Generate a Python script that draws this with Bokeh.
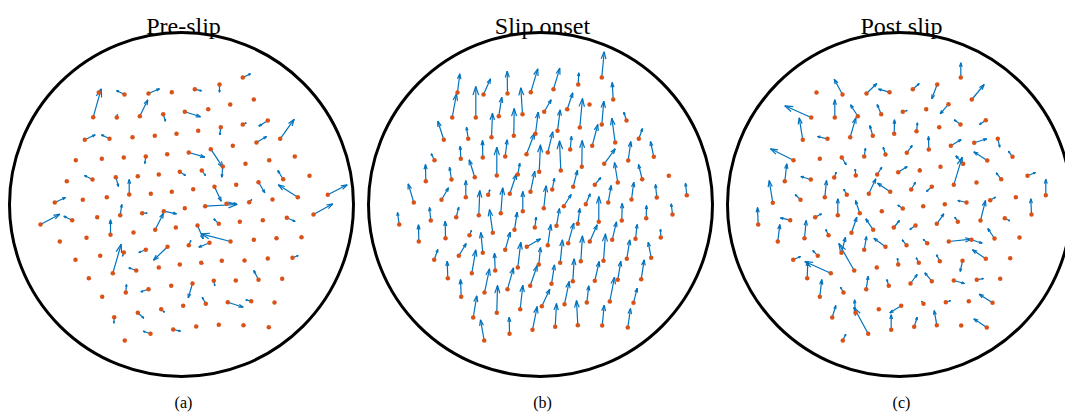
from bokeh.plotting import figure
from bokeh.layouts import row
from bokeh.models import Range1d
from bokeh.core.properties import value
from bokeh.embed import file_html
from bokeh.resources import INLINE

titles = ["Pre-slip", "Slip onset", "Post slip"]
captions = ["(a)", "(b)", "(c)"]
boundary_radius = 172

# ---- Pre-slip: marker positions (x, y) and displacement vectors (u, v)
p1_x = [-82.7, -88.3, -57, -33, -9.7, -64.7, -41.7, -18.3, -96.7, -72, -49, -26.7, -5, -105.7, -79.7, -57.7, -35.7, -14.3,
        -89, -65.7, -43.7, -22.7, -1.7, -114.7, -52.3, -30.7, -9.7, -126.7, -98.7, -74.7, -61.3, -17.7,
        61.3, 38, 13.3, 48.7, 72.3, 26.7, 3.3, 61.3, 86.3, 39.3, 16.7, 98.7, 75, 51.3, 7.3, 29.3, 113.3, 87.7, 64, 41.3,
        128, 101.7, 20.3, 54.7, 77, 11.7, 33, 116.3, 146.3, 67.7, 91, 23.7, 45, 3.3, 132,
        -141, -109.3, -84.3, -39.3, -71, -48, -26.3, -5.7, -121.7, -95, -68.7, -57.7, -35.7, -14, -106, -81.3, -45.3,
        -22.7, -1.7, -92.7, -55.7, -33, -10.3, -79.3, -43.7, -20.3, -67.3, -31, -8.3, -56.7,
        37.3, 58.3, 81.3, 105.3, 16, 49, 28, 7.3, 72.3, 95, 120, 19.7, 40.3, 63, 86.3, 111, 11, 32.3, 54.3, 77, 100.7,
        1.7, 24.3, 46.3, 69.7, 93, 14.7, 37.3, 62, 87.3]
p1_y = [112, 87.3, 110, 111, 112.3, 87, 88.3, 90.3, 64.7, 65.7, 67.3, 68.7, 70.7, 44.3, 45.7, 47, 48, 50.3,
        25, 27.3, 28.3, 30, 32.7, 23.3, 10, 10.7, 12.7, 2, 4.7, 7.3, -10.7, -6.7,
        127, 120, 115.3, 100, 105, 95.3, 92.7, 80, 84, 77.3, 73.7, 65.7, 62, 58.7, 52, 55.3, 48, 44.3, 40.7, 38,
        28.7, 25.3, 34, 19.7, 22.3, 15.3, 17.7, 7.3, 9.7, 2.3, 5, -1.7, 0.7, -3.7, -10,
        -20, -15.7, -12.7, -8.7, -30.3, -28, -25.3, -23, -37, -33.3, -68.7, -48, -45.3, -42.3, -55.3, -51.3, -66,
        -63, -60, -73.7, -88, -84.7, -81.3, -92.3, -108.3, -104.7, -112.7, -129.3, -125, -136,
        -19.3, -17.3, -15.7, -13.3, -21, -37, -38.3, -40.7, -35.3, -33.7, -32.7, -58.3, -56.3, -56, -54, -53.3, -79,
        -76.3, -76, -75.3, -74.3, -101.3, -99.3, -97.7, -96.7, -98, -122, -120.3, -120.7, -122.7]
p1_u = [1.7, 8, -8, 11, 0, 0.7, 8, 2.3, 10.4, -8, 0, 0, 0, 0, 0, 0, -1, 0,
        -8, 2.7, 0.7, 0, 5.7, 0, 0, 0, 0, 10.7, 0, 0, 1.6, 12.7,
        7.7, 0, 6.7, 0, 0, 0, 15.7, 3.4, -9, -1, 0, 14, 10, 0, 16, 12.4, 0, 0, 0, -1,
        0, -5.4, 3.7, 0, 6.3, 0, 6.7, -19.6, 19.4, 2.6, 0, 32, 10, 0, 19.3,
        19.3, -8.4, 0, 5, 0, 0, 8.3, 0, 0, 0, 8.4, -1.3, -7, -14, 0, 0, -7.4,
        0, 0, 0, 0.7, -7.7, 0, 0, 6, 3.3, -0.4, -7.3, 7.3, 0,
        -5, 0, 0, 8.4, 5.7, -29.3, -10.7, 2, 0, 0, 0, 2, 0, 0, 0, 5.7, -4.3,
        1, 0, -4.7, 0, 0, -3.6, 15.4, -5.4, 0, 0, 0, 0, 0]
p1_v = [2.7, 28.4, 4, 4.7, 0, 3, 16.4, -7, 5, 4, 0, 0, 0, 0, 0, 0, -7, 0,
        4, -9.3, -1.6, 0, -3.7, 0, 15, 0, 0, 5, 0, 0, 10.7, -2.6,
        3.7, -7.7, -1.6, 0, 0, 0, -5, 1.7, -5.7, -7.6, 0, 19.6, 6, 0, -4.7, -18.6, 0, 0, 0, -10.7,
        0, 8.7, -5, 0, -10.6, 0, -14.4, 12.4, 10, 2.7, 0, 1.7, 0.3, 0, 10.7,
        10.3, 4, 0, 0, 15, 0, 16.6, 0, 0, 0, 29, -3.7, -2.7, -13.4, 0, 0, 2.7,
        0, 0, 0, 8, -2.6, 0, 0, -5.4, -3, -6, 2.6, -1.7, 0,
        5, 0, 0, -3.7, -13.3, 7.7, -4.4, 4.7, 0, 0, 0, -1, 0, 0, 0, 2.3, -14.3,
        -5, 0, 9.3, 0, 0, 6.6, -5, 1.4, 0, 0, 0, 0, 0]

# ---- Slip onset
p2_x = [-83, -57, -33, -9.7, -88.3, -64.7, -41.7, -18, -96.7, -72.3, -49, -26.7, -5, -106, -79.7, -57.7, -35.3, -14,
        -114.7, -89, -65.7, -43.7, -22.7, -1.3, -126.7, -99, -74.7, -52.3, -30.7, -10,
        61.3, 37.7, 13, 72.7, 49, 26.7, 3.7, 39.3, 61.3, 86, 17, 74.7, 98.3, 51.7, 29.7, 7.3, 113.3, 87.7, 41.3, 63.7,
        20.3, 128.3, 101.7, 77.3, 54.3, 32.7, 11.7, 146.3, 116.3, 91, 67.7, 45.3, 23.3, 3.3,
        -141.3, -109.7, -84.3, -61.7, -39.7, -17.7, -47.7, -26, -5.7, -121.7, -95, -71, -57.7, -35.3, -13.7, -106.3,
        -81.7, -22.7, -1.7, -68.7, -45.3, -92.7, -56, -33, -10.3, -79.3, -43.7, -20.3, -67.3, -31, -8, -56.3,
        16, 37.3, 58.3, 81.3, 105.7, 132, 7.3, 27.7, 49.3, 71.7, 95, 120.3, 19.7, 40.3, 63, 86.3, 110.7, 11, 32.3, 54.3,
        77.3, 100.7, 1.3, 24, 46.3, 69.3, 93, 14.7, 37.3, 61.7, 87.3]
p2_y = [112, 110, 111, 112.3, 87, 87, 88.3, 90.3, 64.7, 65.7, 67.3, 68.7, 70.7, 44.3, 45.7, 47, 48, 50.3,
        23.3, 25, 27.3, 29, 30, 32.7, 2, 4.7, 7.3, 9.7, 10.7, 12.7,
        127, 120, 115.3, 105, 100, 95.3, 92.7, 77, 80, 84, 73.7, 62, 65.7, 58.7, 55, 52, 47.7, 44, 37.7, 40.7,
        34, 28.7, 25.3, 22, 19.7, 17.7, 15, 9.3, 7, 5, 2, 0.3, -1.7, -3.7,
        -20, -16, -12.7, -10.7, -8.7, -6.7, -28.3, -25.3, -23, -37, -33.7, -30.7, -48.3, -45.3, -42.3, -55.3,
        -51.3, -63, -60, -68.7, -66, -73.7, -88, -84.7, -81.3, -92.3, -108.3, -104.7, -113, -129.3, -125.3, -136,
        -21.3, -19.3, -17.3, -16, -13.7, -10, -40.7, -38.7, -37, -35.3, -34.3, -33, -58.3, -56.7, -56.3, -54.3, -53.3,
        -79.3, -76.7, -76.3, -75.3, -74.7, -101.7, -99.7, -98, -97, -98.3, -122.3, -120.7, -121, -123]
p2_u = [2.3, 7, -0.3, 7, 4.3, 0, 3, -1.7, -6, -1.7, 1, 0.4, 2.7, -3.3, -0.6, -0.3, 2, 8,
        -0.3, -2, -5.6, 0, 2, 1.3, -5.6, 7, 0, 1.6, 6.7, 4.3,
        2.4, 0.6, 6.3, -1, 0, 5.6, 7, 2.7, 2, -2.7, 2.7, -3.4, 3.7, 5.6, 1.3, 5, -3.3, 2.6, 0.4, 11,
        -1.3, 0, -3.7, -3.3, 6, 4.3, 2.3, -1.3, -1.3, 2.3, 3, 4.4, 7.4, 2.4,
        -1.7, -1.3, 2.6, 1, 2, 0, -3.3, 2.7, 1.4, -0.3, -0.3, 2, -2, 5, 13.7, 3.6,
        7.4, 3, 1.7, 4, -0.7, -0.6, 5, 6, 7, -0.7, 0.7, 2.6, 3.6, -0.3, 4.7, -3.7,
        3, 2, 0, 0.4, 0.3, -1.3, 3, 5.6, 7.4, 4.3, 1.7, -0.3, 2.3, 1.7, 2, 3, -3, 3, 1.4, 4.4,
        3, 3, 8, 4.7, 2, 4.7, 3.7, 1.3, -1.3, 2, 2.7]
p2_v = [18.7, 15.7, 22.3, 23.4, 23.7, 31, 19, 26.4, 18.6, 11.6, 24, 27.3, 21.6, 6.4, 12.6, 17, 16.7, 21,
        16.7, 12.3, 17.4, 28.3, 11.3, 27, 18.7, 12, 16.7, 5, 20, 20.6,
        25.7, 11.7, 21, 17, 0, 16.4, 12, 29, 23.3, 8.3, 21, 24.3, 10.3, 21.3, 13.3, 20.7, 15.3, 19, 26.3, 15,
        29.7, 0, 14.7, 20, 7.3, 16.6, 11.3, 12, 13, 17.3, 17, 10.4, 11.7, 22.4,
        12, 13, 10, 24.7, 25.4, 19.7, 23.3, 17.6, 10.3, 16.7, 17, 4.7, 20.3, 17.6, 8, 10.3,
        12.3, 25.3, 17, 23.4, 17.3, 17, 23.7, 21.4, 20.3, 17.3, 27.3, 24, 21.7, 16.6, 23.3, 20.7,
        17.3, 15.3, 25.3, 17, 12.7, 10.7, 20.7, 20, 16.7, 18, 14.3, 8.3, 23, 25.4, 27, 19, 15.6, 19, 22.4, 19.3,
        18.6, 19.4, 17, 22.7, 16.7, 24.3, 14.6, 23.3, 24.7, 20.3, 19]

# ---- Post slip
p3_x = [-83, -57, -33, -10, -88.3, -64.7, -41.7, -18.3, -96.7, -72, -49.3, -26.7, -5.3, -106, -79.7, -57.7, -35.3, -14,
        -114.7, -88.7, -65.3, -43.7, -22.3, -1.3, -126.7, -99, -74.7, -52.7, -30.7, -9.3,
        61.3, 37.7, 13.3, 72.3, 26.7, 49, 3.3, 17, 39.7, 61, 86.3, 29.3, 51.3, 74.7, 98.3, 7.3, 87.7, 113, 63.7, 54.3,
        41, 20.3, 101.7, 128, 77, 32.3, 11.7, 146.3, 116.3, 90.7, 67, 45.3, 23.7, 3.3,
        -141.3, -109.3, -84.3, -61.7, -39.7, -17.7, -121.7, -95, -71, -48, -26.3, -5.7, -106.3, -81.7, -58, -35.3, -14,
        -68.7, -45.3, -22.7, -1.3, -92.3, -56, -33.3, -10.7, -79.7, -44, -20.7, -67.3, -31.3, -8.3, 1.7, -56.7,
        16, 37.3, 58.3, 81, 105.3, 132, 7, 27.7, 49.3, 72, 95, 120, 19.3, 40.3, 63, 86.3, 110.7, 11, 32.3, 54.3, 77.3,
        100.7, 24, 46.3, 69.3, 93, 14.7, 37.3, 61.7, 87.3]
p3_y = [112, 110, 111, 112.3, 87, 87, 88.3, 90.3, 64.7, 65.7, 67.3, 68.7, 70.7, 44.3, 45.7, 47, 48, 50,
        23.3, 25, 27, 29, 30, 32.3, 1.7, 4.7, 7.3, 9.7, 10.7, 12.7,
        127, 120, 115.3, 105, 95.3, 100.3, 92.7, 73.3, 77.3, 80, 84.3, 55, 58.7, 61.7, 65.7, 51.7, 44, 47.7, 40.7, 19.7,
        37.7, 34, 25.3, 28.7, 22, 17.7, 15, 9.3, 7.3, 4.3, 2, 0.3, -1.7, -4,
        -20, -15.7, -12.7, -10.7, -8.7, -6.7, -37, -33.7, -30.7, -28.3, -25.3, -23, -55.3, -51.3, -48.3, -45.3, -42.3,
        -68.7, -66, -63, -60, -73.7, -88, -84.7, -81.3, -92.3, -108.3, -104.7, -113, -129.3, -125.3, -101.3, -136,
        -21, -19.3, -17.3, -16, -13.7, -10, -40.7, -38.7, -37, -35.3, -34, -33, -58.3, -56.7, -56.3, -54.3, -53.7,
        -79, -76.7, -76, -75.3, -74.3, -99.3, -97.7, -96.7, -98.3, -122.3, -120.7, -121, -123]
p3_u = [0, -8.3, 10.3, -11, -26.4, 0, -7.3, -4, -3.6, -10, 5.6, -3, 0.3, -23, 0, 4.4, 1.3, -2.3,
        2, -10, 2, -0.6, 4.6, 9, -3.6, -5.3, 1.7, -3, 7, -12.7,
        0, -5.4, 6.4, 12.4, 0, -8.3, 4.4, 1, 0, -6.3, -6.3, -0.3, 10.4, 12.6, 2, 5.4, -13.4, -4, -7.4, 8.4,
        0, 0, -5, 8, 0, -5.3, 4.3, 0, 0, 5.3, -8.7, 0, 0, -5,
        -0.7, -9.7, 6.3, 0, -4.3, 0, 2, 1.7, -2.7, 5.3, -7.4, 5.7, 7.3, -5, 4, 2.3, -11.7,
        -26, -15.4, 0, -0.7, 0.6, -3, 2, -2, 2, -1, 0, 3.6, -14.4, 0, -11.4, 3,
        -5.7, 7, -3, 5, 5, -0.7, -4.3, -4, 22.7, 10.7, -6.7, 0, -2.6, -3.3, -2.3, -13.3, 0, 6.7, -7, 10.7, 6.7,
        0, -2, 4.7, 0, -13.3, 3, -2.6, 0, -13]
p3_v = [0, 15.3, 10, 3, 11.7, 17.7, 11.4, 9.7, 22, 2.3, 19.4, 10.3, 14, 11.4, 0, -7.3, 8.3, 7.3,
        17.4, 3, 5.3, 6.3, 7.3, 5.7, 22.3, 5.3, 16.7, 5.6, 15, 8.6,
        14.7, -14.3, 5.7, 15, 0, -9.6, 1.3, 8.4, 0, 4.7, -4.3, 13, 6.3, 4, -8.4, 7.3, 8.7, 5.6, 8, 27.6,
        0, 2, 6.4, 3.3, 0, -4.7, 7.3, 16, 0, 3, 2, 0, 0, 3.3,
        17, 2.4, 3.4, 16.4, 12.7, 0, 17, 17.7, 5.7, 15.6, 11, 7, 3.3, 5.3, 15.6, 13.3, 8.6,
        11.7, 27, 0, 6.3, 17, 5.3, 13, 6.3, 17.3, 13, 0, 12, 26.6, 15, -7, 6.3,
        -4, 10, 4.6, 20, -2.6, 15.7, 5.4, 4, 2.3, -3.4, 10, 0, 5, 6.4, -10.7, 9, 0, 9, 8.4, -3, 1.3,
        0, 2.6, 1.7, 0, 8.6, 9.6, 14.7, 0, 8.7]

panels = [(p1_x, p1_y, p1_u, p1_v), (p2_x, p2_y, p2_u, p2_v), (p3_x, p3_y, p3_u, p3_v)]

ARROW_BLUE = "#0072BD"
POINT_ORANGE = "#D95319"
FONT = value("Liberation Serif")
x_starts = [-181, -180, -179]
widths = [360, 360, 345]
HEIGHT = 413

figs = []
for (xs, ys, us, vs), title, cap, x0_, w in zip(panels, titles, captions, x_starts, widths):
    p = figure(width=w, height=HEIGHT, x_range=Range1d(x0_, x0_ + w), y_range=Range1d(204 - HEIGHT, 204),
               output_backend="svg", toolbar_location=None, x_axis_location=None, y_axis_location=None,
               min_border=0, outline_line_color=None)
    p.grid.visible = False

    p.circle(x=[0], y=[0], radius=boundary_radius, fill_color=None, line_color="black", line_width=3)

    x0, y0, x1, y1 = [], [], [], []
    alpha, beta = 0.28, 0.33
    for x, y, u, v in zip(xs, ys, us, vs):
        if u == 0 and v == 0:
            continue
        tx, ty = x + u, y + v
        x0 += [x, tx, tx]
        y0 += [y, ty, ty]
        x1 += [tx, tx - alpha * (u + beta * v), tx - alpha * (u - beta * v)]
        y1 += [ty, ty - alpha * (v - beta * u), ty - alpha * (v + beta * u)]
    p.segment(x0=x0, y0=y0, x1=x1, y1=y1, line_color=ARROW_BLUE, line_width=1.2)

    p.scatter(x=xs, y=ys, size=4.5, fill_color=POINT_ORANGE, line_color=None)

    p.text(x=[2], y=[179], text=[title], text_font=FONT, text_font_size="24px",
           text_align="center", text_baseline="alphabetic", text_color="black")
    p.text(x=[2], y=[-198], text=[cap], text_font=FONT, text_font_size="16px",
           text_align="center", text_baseline="alphabetic", text_color="black")
    figs.append(p)

layout = row(*figs)
open("out.html", "w").write(file_html(layout, INLINE))
